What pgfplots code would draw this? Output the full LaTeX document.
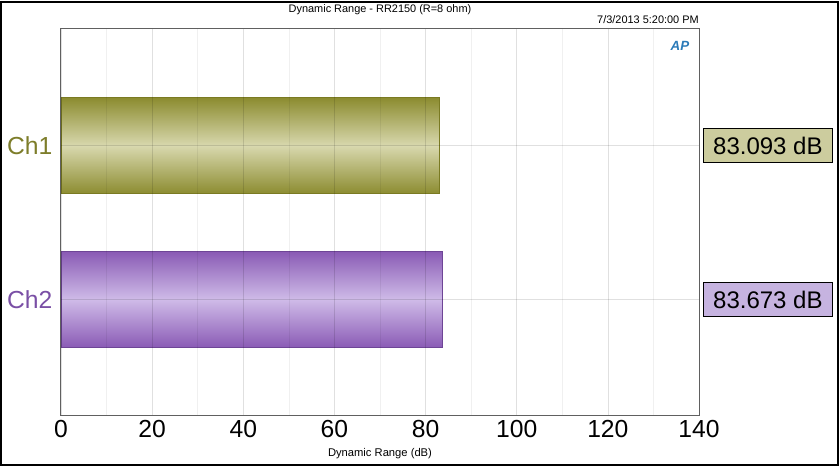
\documentclass[border=0pt]{standalone}
\usepackage{fontspec}
\setmainfont{Liberation Sans}
\usepackage{pgfplots}
\pgfplotsset{compat=1.18}

\definecolor{olDark}{HTML}{8C8C30}
\definecolor{olLight}{HTML}{D8D8AE}
\definecolor{olEdge}{HTML}{7A7A22}
\definecolor{olText}{HTML}{7D7D2A}
\definecolor{olBox}{HTML}{CCCC9E}
\definecolor{puDark}{HTML}{8A5BB5}
\definecolor{puLight}{HTML}{CFBBE8}
\definecolor{puEdge}{HTML}{6E4596}
\definecolor{puText}{HTML}{7A4FA5}
\definecolor{puBox}{HTML}{C6B3E0}
\definecolor{axisgray}{HTML}{606060}
\definecolor{apblue}{HTML}{2A7AB8}

\begin{document}
\begin{tikzpicture}
\begin{axis}[
    scale only axis,
    width=478.5pt, height=290.25pt,
    xmin=0, xmax=140,
    ymin=-0.755, ymax=1.76,
    xtick distance=20,
    minor x tick num=1,
    ytick={0,1},
    yticklabels={\textcolor{puText}{Ch2},\textcolor{olText}{Ch1}},
    xmajorgrids, xminorgrids, ymajorgrids,
    major grid style={black, opacity=0.12, line width=0.5pt},
    minor grid style={black, opacity=0.06, line width=0.5pt},
    major tick length=0pt, minor tick length=0pt,
    axis line style={draw=axisgray, line width=0.75pt},
    axis on top,
    tick label style={font=\fontsize{18.5}{20}\selectfont},
    yticklabel style={xshift=-3pt},
    /pgf/number format/assume math mode=true,
    clip=false,
    xbar, bar shift=0pt, bar width=0.623,
]
\addplot[draw=olEdge, line width=0.6pt, top color=olDark, bottom color=olDark, middle color=olLight]
    coordinates {(83.093,1)};
\addplot[draw=puEdge, line width=0.6pt, top color=puDark, bottom color=puDark, middle color=puLight]
    coordinates {(83.673,0)};

% value boxes
\node[anchor=west, xshift=3pt, draw=black, line width=0.6pt, fill=olBox,
      minimum width=96.75pt, minimum height=25.5pt, inner xsep=3pt,
      font=\fontsize{18}{20}\selectfont] at (axis cs:140,1) {83.093 dB};
\node[anchor=west, xshift=3pt, draw=black, line width=0.6pt, fill=puBox,
      minimum width=96.75pt, minimum height=25.5pt, inner xsep=3pt,
      font=\fontsize{18}{20}\selectfont] at (axis cs:140,0) {83.673 dB};

% texts
\node[font=\fontsize{8.2}{9}\selectfont] at ([yshift=14.5pt]rel axis cs:0.5,1)
    {Dynamic Range - RR2150 (R=8 ohm)};
\node[font=\fontsize{8.2}{9}\selectfont, anchor=east, inner xsep=0pt] at ([yshift=6.75pt]rel axis cs:1,1)
    {7/3/2013 5:20:00 PM};
\node[font=\fontsize{8.4}{9}\selectfont] at ([yshift=-28.5pt]rel axis cs:0.5,0)
    {Dynamic Range (dB)};
\node[font=\fontsize{10}{12}\selectfont\bfseries\itshape, text=apblue] at ([xshift=-14.25pt, yshift=-12.75pt]rel axis cs:1,1) {AP};

% outer frame
\draw[black, line width=1.5pt] ([shift={(-45pt,-36.75pt)}]rel axis cs:0,0)
    rectangle ([shift={(104.25pt,20.25pt)}]rel axis cs:1,1);
\end{axis}
\end{tikzpicture}
\end{document}
